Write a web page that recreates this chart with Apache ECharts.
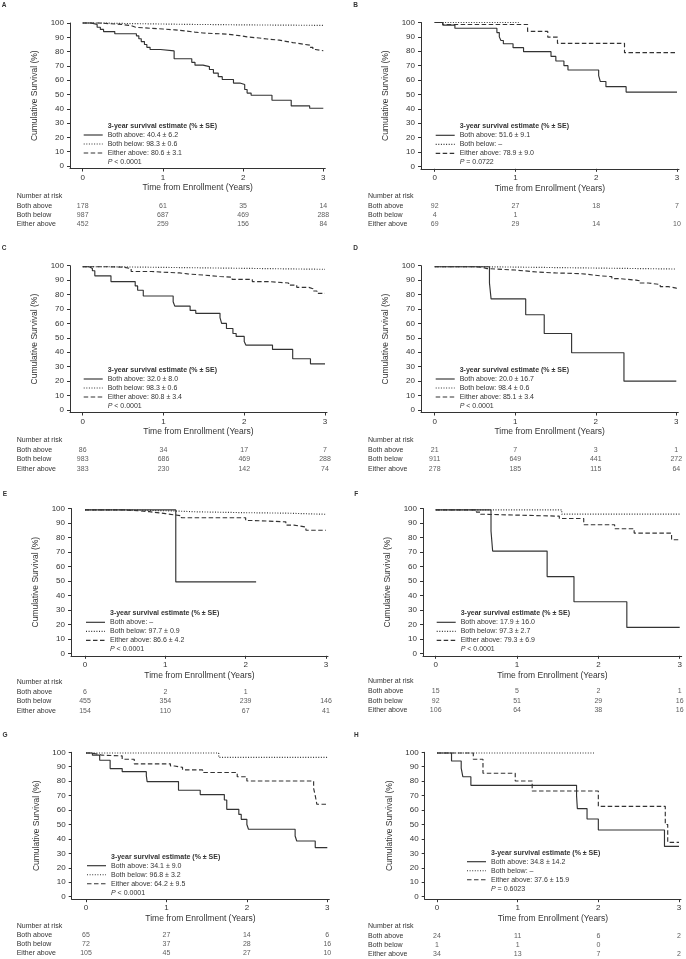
<!DOCTYPE html>
<html><head><meta charset="utf-8">
<script src="https://cdn.jsdelivr.net/npm/echarts@6/dist/echarts.min.js"></script>
<style>html,body{margin:0;padding:0;background:#fff}#c{width:686px;height:959px}</style>
</head><body><div id="c"></div>
<script>
const FONT = "'Liberation Sans', Arial, sans-serif";
const TXT = '#333';
const LINE = '#333';

const panelTags = ['A','B','C','D','E','F','G','H'];
const timeTicks = [0, 1, 2, 3];
const survivalTicks = [0, 10, 20, 30, 40, 50, 60, 70, 80, 90, 100];
const groupNames = ['Both above', 'Both below', 'Either above'];

// ---- Kaplan-Meier curves: [years, cumulative survival %] ----
const A_bothAbove = [[0,100],[0.1,99],[0.18,97],[0.22,95.5],[0.26,94],[0.4,92.5],[0.67,91],[0.7,89],[0.73,87],[0.77,85],[0.8,83],[0.84,81.5],[0.97,80.5],[1.14,75],[1.36,72.5],[1.4,70.5],[1.5,69.5],[1.58,67.5],[1.63,65],[1.69,62.5],[1.74,60.5],[1.88,58],[1.96,57],[2.02,53.5],[2.05,51],[2.1,49.5],[2.36,46],[2.6,42],[2.83,40.4],[3.0,40.4]];
const A_bothBelow = [[0,100],[0.2,99.8],[0.4,99.6],[0.6,99.4],[0.85,99.2],[1.1,99.0],[1.35,98.9],[1.65,98.7],[1.95,98.6],[2.25,98.5],[2.55,98.4],[2.85,98.3],[3.0,98.3]];
const A_eitherAbove = [[0,100],[0.2,99.5],[0.35,99],[0.48,98.2],[0.6,97],[0.66,96.3],[0.85,95.8],[1.0,95.2],[1.15,94.5],[1.27,93.6],[1.4,93],[1.5,92.2],[1.8,91.2],[1.95,90.3],[2.05,89.5],[2.2,88.8],[2.3,88],[2.45,87],[2.55,86.3],[2.62,85.2],[2.75,84.5],[2.83,83],[2.87,81.5],[2.9,80.6],[3.0,80.6]];

const B_bothAbove = [[0,100],[0.1,98.2],[0.25,96],[0.77,93],[0.8,90],[0.82,87.5],[0.85,85.2],[0.97,82.5],[1.1,79.7],[1.44,76.4],[1.5,73.2],[1.6,70],[1.65,67],[2.03,63],[2.05,59],[2.12,55.4],[2.37,51.6],[3.0,51.6]];
const B_bothBelow = [[0,100],[1.04,100]];
const B_eitherAbove = [[0,100],[0.1,98.6],[1.15,93.8],[1.4,89.8],[1.52,85.5],[2.35,79],[3.0,79]];

const C_bothAbove = [[0,99.3],[0.08,98],[0.12,96.5],[0.15,93],[0.35,89],[0.65,86],[0.68,83],[0.75,79],[1.12,75],[1.14,72],[1.33,69],[1.4,67],[1.7,64],[1.72,60],[1.78,56.5],[1.86,53],[1.9,51],[2.0,47.5],[2.02,45],[2.35,42],[2.6,35.5],[2.82,32],[3.0,32]];
const C_bothBelow = [[0,99.3],[0.3,99.1],[0.6,98.9],[0.9,98.7],[1.2,98.5],[1.5,98.3],[1.8,98.1],[2.1,97.9],[2.4,97.7],[2.7,97.5],[3.0,97.4]];
const C_eitherAbove = [[0,99.3],[0.3,99],[0.5,98],[0.6,96],[0.85,95.5],[1.0,95],[1.2,94.3],[1.3,93.5],[1.5,92.5],[1.7,92],[1.85,90.5],[2.1,89],[2.3,88],[2.55,86.5],[2.65,85],[2.8,84],[2.85,82.5],[2.9,80.8],[3.0,80.8]];

const D_bothAbove = [[0,99.3],[0.68,88],[0.7,77],[1.13,66],[1.36,53],[1.7,39.7],[2.35,20],[3.0,20]];
const D_bothBelow = [[0,99.3],[0.6,99.1],[0.9,98.9],[1.2,98.7],[1.5,98.5],[1.8,98.3],[2.1,98.1],[2.4,97.9],[2.7,97.7],[3.0,97.6]];
const D_eitherAbove = [[0,99.3],[0.5,98.8],[0.6,98],[0.65,97],[1.0,96.5],[1.1,95.5],[1.3,95],[1.5,94.5],[1.8,94],[1.9,93],[2.05,92.4],[2.2,91],[2.3,90],[2.5,89.5],[2.55,88],[2.65,87],[2.8,85.5],[2.9,84.5],[3.0,84]];

const E_bothAbove = [[0,99],[1.13,49.3],[2.13,49.3]];
const E_bothBelow = [[0,99],[0.5,98.7],[0.8,98.3],[1.1,97.7],[1.4,97.4],[1.7,97.1],[2.0,96.8],[2.5,96.3],[2.8,96],[3.0,96]];
const E_eitherAbove = [[0,99],[0.5,98.5],[0.65,97.8],[0.8,96.5],[1.0,95.7],[1.1,95],[1.2,93.6],[2.0,91.7],[2.1,90.8],[2.5,88.5],[2.6,87.2],[2.75,85],[3.0,85]];

const F_bothAbove = [[0,99],[0.68,84.5],[0.7,70.6],[1.37,53],[1.7,35.6],[2.35,17.9],[3.0,17.9]];
const F_bothBelow = [[0,99],[1.55,96.1],[3.0,96.1]];
const F_eitherAbove = [[0,99],[0.5,97.5],[0.55,96],[0.6,94.7],[1.52,93.1],[1.82,88.8],[2.2,86],[2.44,83],[2.9,78.4],[3.0,78.4]];

const G_bothAbove = [[0,99.5],[0.08,98],[0.17,94.5],[0.3,88.7],[0.45,86.6],[0.75,83.8],[0.76,79.7],[1.15,73.7],[1.42,70.7],[1.72,67],[1.75,60.5],[1.9,57],[1.93,53.6],[2.0,50],[2.02,46.7],[2.6,42],[2.62,38.6],[2.85,34],[3.0,34]];
const G_bothBelow = [[0,99.5],[1.65,96.5],[3.0,96.5]];
const G_eitherAbove = [[0,99.5],[0.05,99],[0.12,98],[0.2,97.5],[0.45,95.2],[0.6,92],[1.05,90.5],[1.1,89.6],[1.2,87.8],[1.45,86],[1.88,83.1],[2.0,80.1],[2.83,75],[2.85,70],[2.87,64],[3.0,64]];

const H_bothAbove = [[0,99.5],[0.18,94],[0.3,89],[0.32,83.1],[0.42,77.1],[1.73,70],[1.74,61],[1.86,53.8],[2.0,46.2],[2.82,34.8],[3.0,34.8]];
const H_bothBelow = [[0,99.5],[1.96,99.5]];
const H_eitherAbove = [[0,99.5],[0.45,95.2],[0.57,85.5],[0.97,80.1],[1.18,73.2],[2.0,62.6],[2.83,50],[2.86,37.6],[3.0,37.6]];

// ---- Number at risk (at 0,1,2,3 years) ----
const A_riskBothAbove = [178, 61, 35, 14], A_riskBothBelow = [987, 687, 469, 288], A_riskEitherAbove = [452, 259, 156, 84];
const B_riskBothAbove = [92, 27, 18, 7],   B_riskBothBelow = [4, 1],               B_riskEitherAbove = [69, 29, 14, 10];
const C_riskBothAbove = [86, 34, 17, 7],   C_riskBothBelow = [983, 686, 469, 288], C_riskEitherAbove = [383, 230, 142, 74];
const D_riskBothAbove = [21, 7, 3, 1],     D_riskBothBelow = [911, 649, 441, 272], D_riskEitherAbove = [278, 185, 115, 64];
const E_riskBothAbove = [6, 2, 1],         E_riskBothBelow = [455, 354, 239, 146], E_riskEitherAbove = [154, 110, 67, 41];
const F_riskBothAbove = [15, 5, 2, 1],     F_riskBothBelow = [92, 51, 29, 16],     F_riskEitherAbove = [106, 64, 38, 16];
const G_riskBothAbove = [65, 27, 14, 6],   G_riskBothBelow = [72, 37, 28, 16],     G_riskEitherAbove = [105, 45, 27, 10];
const H_riskBothAbove = [24, 11, 6, 2],    H_riskBothBelow = [1, 1, 0],            H_riskEitherAbove = [34, 13, 7, 2];

// ---- 3-year survival estimates and P values ----
const A_estimates = ['40.4 ± 6.2', '98.3 ± 0.6', '80.6 ± 3.1'];   const A_p = '< 0.0001';
const B_estimates = ['51.6 ± 9.1', '–', '78.9 ± 9.0'];           const B_p = '= 0.0722';
const C_estimates = ['32.0 ± 8.0', '98.3 ± 0.6', '80.8 ± 3.4'];   const C_p = '< 0.0001';
const D_estimates = ['20.0 ± 16.7', '98.4 ± 0.6', '85.1 ± 3.4'];  const D_p = '< 0.0001';
const E_estimates = ['–', '97.7 ± 0.9', '86.6 ± 4.2'];           const E_p = '< 0.0001';
const F_estimates = ['17.9 ± 16.0', '97.3 ± 2.7', '79.3 ± 6.9'];  const F_p = '< 0.0001';
const G_estimates = ['34.1 ± 9.0', '96.8 ± 3.2', '64.2 ± 9.5'];   const G_p = '< 0.0001';
const H_estimates = ['34.8 ± 14.2', '–', '37.6 ± 15.9'];         const H_p = '= 0.6023';

const panels = [
  {curves:[A_bothAbove,A_bothBelow,A_eitherAbove], risk:[A_riskBothAbove,A_riskBothBelow,A_riskEitherAbove], est:A_estimates, p:A_p},
  {curves:[B_bothAbove,B_bothBelow,B_eitherAbove], risk:[B_riskBothAbove,B_riskBothBelow,B_riskEitherAbove], est:B_estimates, p:B_p},
  {curves:[C_bothAbove,C_bothBelow,C_eitherAbove], risk:[C_riskBothAbove,C_riskBothBelow,C_riskEitherAbove], est:C_estimates, p:C_p},
  {curves:[D_bothAbove,D_bothBelow,D_eitherAbove], risk:[D_riskBothAbove,D_riskBothBelow,D_riskEitherAbove], est:D_estimates, p:D_p},
  {curves:[E_bothAbove,E_bothBelow,E_eitherAbove], risk:[E_riskBothAbove,E_riskBothBelow,E_riskEitherAbove], est:E_estimates, p:E_p},
  {curves:[F_bothAbove,F_bothBelow,F_eitherAbove], risk:[F_riskBothAbove,F_riskBothBelow,F_riskEitherAbove], est:F_estimates, p:F_p},
  {curves:[G_bothAbove,G_bothBelow,G_eitherAbove], risk:[G_riskBothAbove,G_riskBothBelow,G_riskEitherAbove], est:G_estimates, p:G_p},
  {curves:[H_bothAbove,H_bothBelow,H_eitherAbove], risk:[H_riskBothAbove,H_riskBothBelow,H_riskEitherAbove], est:H_estimates, p:H_p}
];

// ---- layout (pixels, relative to each panel's origin) ----
const layouts = [
  {ox:0,   oy:0,   yax:70,   x0:82.7, x3:323.3, y100:23,   y0:166,   legDx:0,  legDy:0,  riskTitle:196,   riskRow:205.7, gap:9.3, labX:16.7, tagX:4,    tagY:5},
  {ox:343, oy:0,   yax:78,   x0:91.7, x3:334,   y100:22.5, y0:166.3, legDx:0,  legDy:0,  riskTitle:196,   riskRow:205.7, gap:9.3, labX:25,   tagX:12.7, tagY:5},
  {ox:0,   oy:240, yax:70,   x0:82.7, x3:325,   y100:25.7, y0:170,   legDx:0,  legDy:0,  riskTitle:200,   riskRow:210,   gap:9.3, labX:16.7, tagX:4,    tagY:8.3},
  {ox:343, oy:240, yax:78,   x0:91.7, x3:333.3, y100:25.7, y0:170,   legDx:0,  legDy:0,  riskTitle:200,   riskRow:210,   gap:9.3, labX:25,   tagX:12.7, tagY:8.3},
  {ox:0,   oy:480, yax:71,   x0:85,   x3:326,   y100:28.5, y0:173.3, legDx:0,  legDy:0,  riskTitle:201.7, riskRow:211.7, gap:9.5, labX:16.7, tagX:5,    tagY:14},
  {ox:343, oy:480, yax:80,   x0:92.7, x3:336.7, y100:28.5, y0:173.3, legDx:0,  legDy:0,  riskTitle:201,   riskRow:211,   gap:9.7, labX:25,   tagX:13.3, tagY:14},
  {ox:0,   oy:720, yax:71.7, x0:86,   x3:327.3, y100:32.3, y0:176.7, legDx:0,  legDy:0,  riskTitle:205.7, riskRow:215,   gap:9.2, labX:16.7, tagX:5,    tagY:15},
  {ox:343, oy:720, yax:81.7, x0:94,   x3:336,   y100:32.3, y0:176.7, legDx:29, legDy:-4, riskTitle:205.7, riskRow:216,   gap:9.0, labX:25,   tagX:13.3, tagY:15}
];

const lineDashes = ['solid', [1, 1.6], [4.5, 2.5]];
const legendDashes = [null, [1, 1.6], [4.5, 2.5]];

const grids = [], xAxes = [], yAxes = [], series = [], graphic = [];

panels.forEach((P, i) => {
  const L = layouts[i];
  const ppy = (L.x3 - L.x0) / 3;
  const ppu = (L.y0 - L.y100) / 100;
  const axisY = L.y0 + 2.5;
  const xmin = -(L.x0 - L.yax) / ppy;
  const xmax = 3 + 2 / ppy;
  const ymin = -(axisY - L.y0) / ppu;
  const gLeft = L.ox + L.yax, gWidth = L.x3 + 2 - L.yax;

  grids.push({left: gLeft, top: L.oy + L.y100, width: gWidth, height: axisY - L.y100});
  xAxes.push({
    gridIndex: 2 * i, type: 'value', min: xmin, max: xmax,
    name: 'Time from Enrollment (Years)', nameLocation: 'middle', nameGap: 15,
    nameTextStyle: {fontSize: 8.5, color: TXT, fontFamily: FONT},
    axisLine: {onZero: false, lineStyle: {color: LINE, width: 1}},
    axisTick: {customValues: timeTicks, length: 3, lineStyle: {color: LINE}},
    axisLabel: {customValues: timeTicks, fontSize: 8, color: TXT, fontFamily: FONT, margin: 5},
    splitLine: {show: false}
  });
  yAxes.push({
    gridIndex: 2 * i, type: 'value', min: ymin, max: 100,
    name: 'Cumulative Survival (%)', nameLocation: 'middle', nameRotate: 90, nameGap: 31,
    nameTextStyle: {fontSize: 8.5, color: TXT, fontFamily: FONT},
    axisLine: {show: true, onZero: false, lineStyle: {color: LINE, width: 1}},
    axisTick: {show: true, customValues: survivalTicks, length: 3, lineStyle: {color: LINE}},
    axisLabel: {customValues: survivalTicks, fontSize: 8, color: TXT, fontFamily: FONT, margin: 6},
    splitLine: {show: false}
  });

  grids.push({left: gLeft, top: L.oy + L.riskRow, width: gWidth, height: 2 * L.gap});
  xAxes.push({gridIndex: 2 * i + 1, type: 'value', min: xmin, max: xmax, show: false});
  yAxes.push({gridIndex: 2 * i + 1, type: 'value', min: 0, max: 2, inverse: true, show: false});

  P.curves.forEach((c, k) => {
    series.push({
      type: 'line', xAxisIndex: 2 * i, yAxisIndex: 2 * i, data: c, step: 'end',
      symbol: 'none', clip: false, silent: true, animation: false,
      lineStyle: {color: LINE, width: 1.15, type: lineDashes[k]}
    });
  });

  const pts = [];
  P.risk.forEach((row, r) => row.forEach((n, t) => pts.push([timeTicks[t], r, n])));
  series.push({
    type: 'scatter', xAxisIndex: 2 * i + 1, yAxisIndex: 2 * i + 1, data: pts,
    symbolSize: 1, itemStyle: {color: 'rgba(0,0,0,0)'}, silent: true, animation: false,
    label: {show: true, position: 'inside', formatter: p => String(p.value[2]),
            fontSize: 7, color: TXT, fontFamily: FONT}
  });

  graphic.push({type: 'text', x: L.ox + L.tagX, y: L.oy + L.tagY, silent: true,
    style: {text: panelTags[i], fontSize: 6.5, fontWeight: 'bold', fontFamily: FONT, fill: TXT, align: 'center', verticalAlign: 'middle'}});

  graphic.push({type: 'text', x: L.ox + L.labX, y: L.oy + L.riskTitle, silent: true,
    style: {text: 'Number at risk', fontSize: 7, fontFamily: FONT, fill: TXT, align: 'left', verticalAlign: 'middle'}});
  groupNames.forEach((g, r) => graphic.push({type: 'text', x: L.ox + L.labX, y: L.oy + L.riskRow + r * L.gap, silent: true,
    style: {text: g, fontSize: 7, fontFamily: FONT, fill: TXT, align: 'left', verticalAlign: 'middle'}}));

  const lx = L.ox + L.x0 + L.legDx, ly = L.oy + L.y0 - 40 + L.legDy;
  graphic.push({type: 'text', x: lx + 25, y: ly, silent: true,
    style: {text: '3-year survival estimate (% ± SE)', fontSize: 7, fontWeight: 'bold', fontFamily: FONT, fill: TXT, align: 'left', verticalAlign: 'middle'}});
  groupNames.forEach((g, k) => {
    const yy = ly + 9 + 9 * k;
    const st = {stroke: LINE, lineWidth: 1.15};
    if (legendDashes[k]) st.lineDash = legendDashes[k];
    graphic.push({type: 'line', silent: true, shape: {x1: lx + 1, y1: yy, x2: lx + 20, y2: yy}, style: st});
    graphic.push({type: 'text', x: lx + 25, y: yy, silent: true,
      style: {text: g + ': ' + P.est[k], fontSize: 7, fontFamily: FONT, fill: TXT, align: 'left', verticalAlign: 'middle'}});
  });
  graphic.push({type: 'text', x: lx + 25, y: ly + 36, silent: true,
    style: {text: '{i|P} ' + P.p, fontSize: 7, fontFamily: FONT, fill: TXT, align: 'left', verticalAlign: 'middle',
      rich: {i: {fontStyle: 'italic', fontSize: 7, fontFamily: FONT, fill: TXT}}}});
});

const chart = echarts.init(document.getElementById('c'), null, {renderer: 'canvas'});
chart.setOption({
  backgroundColor: '#fff',
  animation: false,
  grid: grids, xAxis: xAxes, yAxis: yAxes, series: series, graphic: graphic
});
</script>
</body></html>
